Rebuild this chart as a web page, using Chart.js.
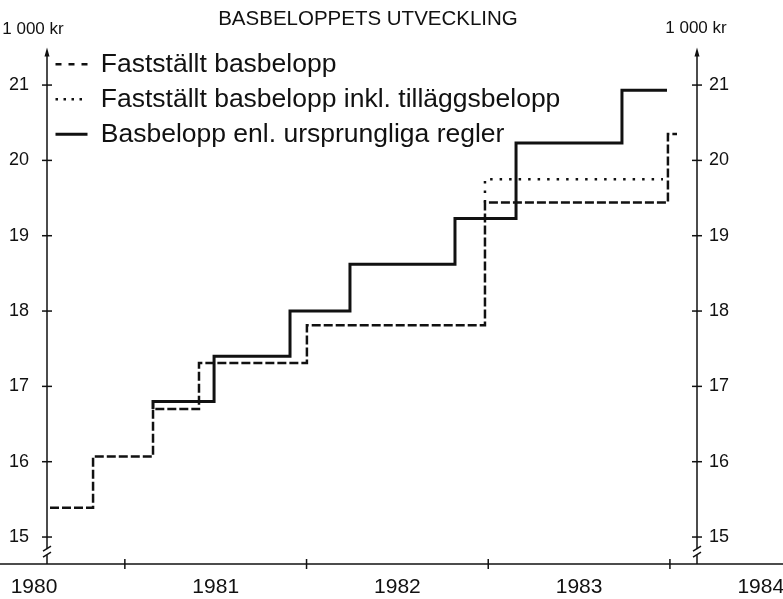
<!DOCTYPE html>
<html>
<head>
<meta charset="utf-8">
<script src="https://cdn.jsdelivr.net/npm/chart.js@4/dist/chart.umd.min.js"></script>
<style>
  html, body { margin: 0; background: #fff; }
  #wrap { width: 783px; height: 599px; }
</style>
</head>
<body>
<div id="wrap"><canvas id="c"></canvas></div>
<script>
// values, 1000 kr; x = time in years
const chartTitle = 'BASBELOPPETS UTVECKLING';
const unitLabel = '1 000 kr';
const seriesNames = ['Fastställt basbelopp', 'Fastställt basbelopp inkl. tilläggsbelopp', 'Basbelopp enl. ursprungliga regler'];

// each point = time of change and the new value (stepped lines)
const fixedX = [1980.088, 1980.325, 1980.655, 1980.908, 1981.502, 1982.482, 1983.489, 1983.539];
const fixedY = [15.39, 16.07, 16.70, 17.31, 17.81, 19.44, 20.35, 20.35];
const extraX = [1982.482, 1982.482, 1983.462];
const extraY = [19.44, 19.75, 19.75];
const origX = [1980.655, 1980.655, 1980.991, 1981.409, 1981.739, 1982.317, 1982.653, 1983.236, 1983.484];
const origY = [16.70, 16.80, 17.40, 18.00, 18.62, 19.23, 20.23, 20.93, 20.93];

const yearTicks = [1980, 1981, 1982, 1983, 1984];
const halfYearTicks = [1980.5, 1981.5, 1982.5, 1983.5];
const valueTicks = [15, 16, 17, 18, 19, 20, 21];

// axis ranges
const xMin = 1980.0715, xMax = 1983.649;
const yMin = 14.642, yMax = 21.565, axisTop = 21.5, breakAt = 14.80;

const ink = '#111';
const legendDash = [[6, 7], [2.5, 5.5], []];
Chart.defaults.font.family = '"Liberation Sans", Arial, sans-serif';
Chart.defaults.color = ink;

const pts = (xs, ys) => xs.map((x, i) => ({ x, y: ys[i] }));

function seg(ctx, x1, y1, x2, y2) {
  ctx.beginPath(); ctx.moveTo(x1, y1); ctx.lineTo(x2, y2); ctx.stroke();
}

// axes with arrows, crossing tick marks, axis breaks and the loose texts
const decor = {
  id: 'decor',
  afterLayout(ch) {
    // legend in the chart area: start at the top of the plot, not at 0
    if (ch.legend) ch.legend.top = ch.chartArea.top;
  },
  afterDraw(ch) {
    const { ctx } = ch;
    const x = ch.scales.x, y = ch.scales.y;
    const left = x.getPixelForValue(xMin), right = x.getPixelForValue(xMax);
    const base = y.getPixelForValue(yMin), top = y.getPixelForValue(axisTop);
    ctx.save();
    ctx.strokeStyle = ink; ctx.fillStyle = ink; ctx.lineWidth = 1.5;
    seg(ctx, 0, base, ch.width, base);
    halfYearTicks.forEach(v => {
      const px = x.getPixelForValue(v);
      seg(ctx, px, base - 5, px, base + 5);
    });
    [left, right].forEach(ax => {
      seg(ctx, ax, base, ax, top + 6);
      ctx.beginPath();
      ctx.moveTo(ax, top); ctx.lineTo(ax - 2.5, top + 9); ctx.lineTo(ax + 2.5, top + 9);
      ctx.closePath(); ctx.fill();
      valueTicks.forEach(v => {
        const py = y.getPixelForValue(v);
        seg(ctx, ax - 5, py, ax + 5, py);
      });
      const bk = y.getPixelForValue(breakAt);
      ctx.fillStyle = '#fff';
      ctx.fillRect(ax - 3, bk - 3, 6, 6);
      ctx.fillStyle = ink;
      seg(ctx, ax - 4, bk - 1, ax + 4, bk - 6);
      seg(ctx, ax - 4, bk + 5, ax + 4, bk);
    });
    ctx.textAlign = 'center'; ctx.textBaseline = 'middle';
    ctx.font = '20.5px "Liberation Sans", Arial, sans-serif';
    ctx.fillText(chartTitle, 368, 19);
    ctx.font = '17px "Liberation Sans", Arial, sans-serif';
    ctx.fillText(unitLabel, left - 14, 29);
    ctx.fillText(unitLabel, right - 1, 28);
    ctx.restore();
  }
};

const yAxis = (pos, width, pad) => ({
  type: 'linear', position: pos, min: yMin, max: yMax,
  grid: { display: false, drawTicks: false }, border: { display: false },
  afterBuildTicks: s => { s.ticks = valueTicks.map(v => ({ value: v })); },
  ticks: { padding: pad, color: ink, font: { size: 18 }, callback: v => String(v) },
  afterFit: s => { s.width = width; s.paddingTop = s.paddingBottom = 0; }
});

new Chart(document.getElementById('c'), {
  type: 'line',
  data: {
    datasets: [
      { label: seriesNames[0], data: pts(fixedX, fixedY), borderDash: [9, 3], borderWidth: 2.5 },
      { label: seriesNames[1], data: pts(extraX, extraY), borderDash: [2.5, 7], borderWidth: 2.5 },
      { label: seriesNames[2], data: pts(origX, origY), borderWidth: 3 }
    ].map(d => Object.assign({
      stepped: true, borderColor: ink, backgroundColor: ink,
      pointRadius: 0, pointStyle: 'line', fill: false
    }, d))
  },
  options: {
    responsive: true, maintainAspectRatio: false, animation: false,
    layout: { padding: { top: 42.5, left: 0, right: 0, bottom: 0 } },
    scales: {
      x: {
        type: 'linear', min: xMin, max: xMax,
        grid: { display: false, drawTicks: false }, border: { display: false },
        afterBuildTicks: s => { s.ticks = yearTicks.map(v => ({ value: v })); },
        ticks: { autoSkip: false, maxRotation: 0, padding: 11, color: ink, font: { size: 21 }, callback: v => String(v) },
        afterFit: s => { s.height = 35; s.paddingLeft = s.paddingRight = 0; }
      },
      y: yAxis('left', 47, 18),
      y2: yAxis('right', 86, 12)
    },
    plugins: {
      legend: {
        position: 'chartArea', align: 'start',
        labels: {
          usePointStyle: true, pointStyleWidth: 32, padding: 8.5, color: ink, font: { size: 26.5 },
          generateLabels: ch => Chart.defaults.plugins.legend.labels.generateLabels(ch)
            .map((it, i) => Object.assign(it, { lineDash: legendDash[i] }))
        }
      },
      tooltip: { enabled: false }
    }
  },
  plugins: [decor]
});
</script>
</body>
</html>
